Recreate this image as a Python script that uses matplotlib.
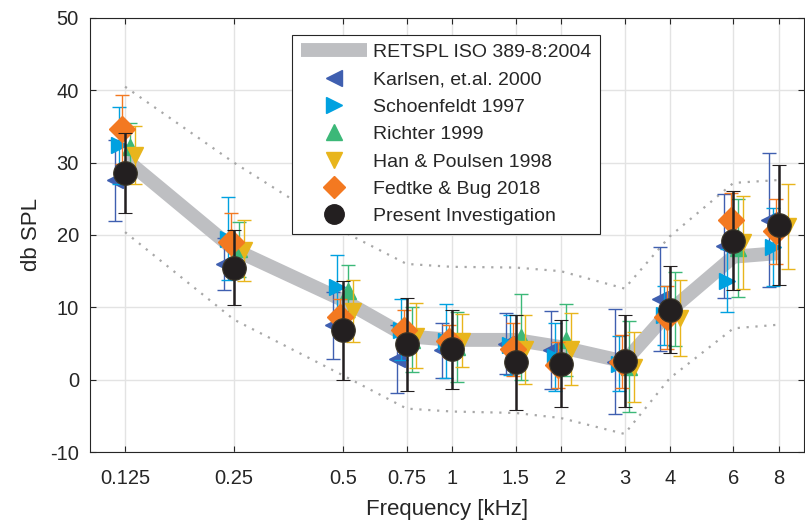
import numpy as np
import matplotlib
matplotlib.use("Agg")
import matplotlib.pyplot as plt
from matplotlib.lines import Line2D
from matplotlib.ticker import NullLocator, FixedLocator, FixedFormatter

plt.rcParams['font.family'] = ['Liberation Sans', 'DejaVu Sans']
plt.rcParams['axes.unicode_minus'] = False

nan = np.nan
freqs = [0.125, 0.25, 0.5, 0.75, 1, 1.5, 2, 3, 4, 6, 8]
tick_labels = ['0.125', '0.25', '0.5', '0.75', '1', '1.5', '2', '3', '4', '6', '8']

retspl = [30.5, 18.0, 11.0, 6.0, 5.5, 5.5, 4.5, 2.5, 9.5, 17.0, 17.5]
upper = [40.5, 30.0, 20.5, 16.0, 15.6, 15.5, 15.0, 12.6, 19.8, 27.2, 27.6]
lower = [20.4, 8.3, 0.6, -4.0, -4.4, -4.6, -5.3, -7.5, 0.2, 7.1, 7.6]

karlsen = [27.6, 16.0, 7.5, 2.9, 4.1, 5.0, 4.1, 2.5, 11.1, 18.5, 22.1]
karlsen_sd = [5.6, 3.6, 4.6, 4.7, 3.8, 4.2, 5.4, 7.3, 7.2, 7.2, 9.3]
schoen = [32.4, 19.5, 12.8, 6.9, 5.3, 4.8, 3.2, 2.2, 8.9, 13.7, 18.3]
schoen_sd = [5.3, 5.7, 4.5, 4.2, 5.1, 4.1, 4.7, 3.8, 4.1, 4.4, 5.4]
richter = [32.1, 18.0, 12.3, 5.5, 4.5, 5.9, 5.5, 1.8, 9.8, 18.2, nan]
richter_sd = [3.4, 3.8, 3.6, 4.5, 4.8, 6.0, 5.0, 6.3, 5.1, 6.8, nan]
han = [31.0, 17.9, 9.5, 6.1, 5.4, 4.2, 4.2, 1.8, 8.5, 19.0, 21.2]
han_sd = [4.0, 4.2, 4.3, 4.5, 3.7, 4.75, 5.0, 4.85, 5.25, 6.45, 5.9]
fedtke = [34.6, 19.1, 8.7, 6.8, 5.4, 4.2, 2.0, 2.5, 8.6, 22.1, 20.5]
fedtke_sd = [4.8, 4.0, 2.4, 2.9, 2.2, 3.7, 3.2, 3.7, 4.3, 3.7, 4.5]
present = [28.6, 15.5, 6.8, 4.9, 4.2, 2.4, 2.2, 2.6, 9.7, 19.2, 21.4]
present_sd = [5.5, 5.2, 6.9, 6.4, 5.5, 6.6, 6.0, 6.4, 6.0, 6.85, 8.25]

f = np.array(freqs, dtype=float)

fig = plt.figure(figsize=(8.05, 5.21), dpi=100)
ax = fig.add_axes([0.1118, 0.1324, 0.8870, 0.8331])
ax.set_xscale('log')

txt = '#262626'
ax.plot(f, retspl, color='#bebfc2', lw=10, solid_capstyle='butt', solid_joinstyle='miter', zorder=2)
ax.plot(f, upper, color='#a8a8a8', lw=1.6, ls=(0, (1, 3)), zorder=2)
ax.plot(f, lower, color='#a8a8a8', lw=1.6, ls=(0, (1, 3)), zorder=2)

series = [
    (karlsen, karlsen_sd, '<', '#3f5fb0', 11, -0.09),
    (schoen, schoen_sd, '>', '#00a1e0', 11, -0.055),
    (richter, richter_sd, '^', '#3cb878', 11, 0.045),
    (han, han_sd, 'v', '#e8b51c', 11, 0.09),
    (fedtke, fedtke_sd, 'D', '#f37921', 13.5, -0.025),
]
z = 3
for vals, sd, mk, col, ms, off in series:
    ax.errorbar(f * 2 ** off, vals, yerr=sd, fmt=mk, color=col, ms=ms, mec=col, mfc=col,
                elinewidth=1.0, capsize=5, capthick=1.0, zorder=z)
    z += 1
ax.errorbar(f, present, yerr=present_sd, fmt='o', color='#231f20', ms=17, mfc='#231f20',
            mec='#3a3528', mew=0.8, elinewidth=1.8, capsize=5, capthick=1.8, zorder=z)

ax.set_xlim(0.1, 9.4)
ax.set_ylim(-10, 50)
ax.xaxis.set_major_locator(FixedLocator(freqs))
ax.xaxis.set_major_formatter(FixedFormatter(tick_labels))
ax.xaxis.set_minor_locator(NullLocator())
ax.set_yticks(range(-10, 51, 10))
ax.grid(True, color='#e3e3e3', lw=1.0, zorder=0)
ax.set_axisbelow(True)
ax.tick_params(direction='in', length=4, width=0.8, colors=txt, labelsize=14.5,
               top=True, right=True)
ax.tick_params(axis='x', pad=12)
ax.tick_params(axis='y', pad=8)
for s in ax.spines.values():
    s.set_color(txt)
    s.set_linewidth(0.8)
ax.set_xlabel('Frequency [kHz]', fontsize=16, color=txt, labelpad=8)
ax.set_ylabel('db SPL', fontsize=16, color=txt, labelpad=6)

handles = [
    Line2D([], [], color='#bebfc2', lw=10, solid_capstyle='butt'),
    Line2D([], [], ls='none', marker='<', color='#3f5fb0', ms=11),
    Line2D([], [], ls='none', marker='>', color='#00a1e0', ms=11),
    Line2D([], [], ls='none', marker='^', color='#3cb878', ms=11),
    Line2D([], [], ls='none', marker='v', color='#e8b51c', ms=11),
    Line2D([], [], ls='none', marker='D', color='#f37921', ms=11),
    Line2D([], [], ls='none', marker='o', color='#231f20', ms=14),
]
labels = ['RETSPL ISO 389-8:2004', 'Karlsen, et.al. 2000', 'Schoenfeldt 1997', 'Richter 1999',
          'Han & Poulsen 1998', 'Fedtke & Bug 2018', 'Present Investigation']
leg = ax.legend(handles, labels, loc='upper left', bbox_to_anchor=(0.283, 0.961), fontsize=14,
                frameon=True, fancybox=False, framealpha=1, edgecolor='#262626',
                handlelength=3.4, handletextpad=0.3, labelspacing=0.5, borderpad=0.45,
                borderaxespad=0)
leg.get_frame().set_linewidth(0.8)
for t in leg.get_texts():
    t.set_color(txt)
leg.set_zorder(20)

fig.savefig('out.png', dpi=100)
